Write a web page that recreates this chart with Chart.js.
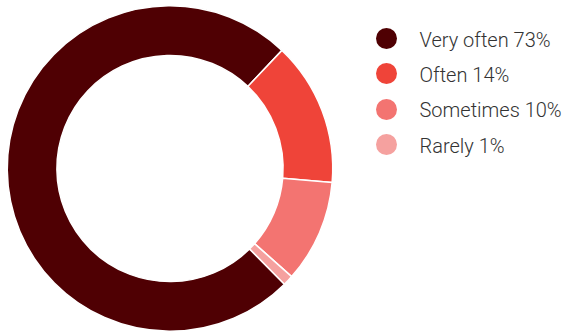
<!DOCTYPE html>
<html>
<head>
<meta charset="utf-8">
<script src="https://cdn.jsdelivr.net/npm/chart.js@4/dist/chart.umd.min.js"></script>
<style>
  html, body { margin: 0; padding: 0; background: #fff; }
  #wrap { position: relative; width: 569px; height: 334px; overflow: hidden; }
  #pie { position: absolute; left: 0; top: 0; width: 340px; height: 334px; }
  #legend { position: absolute; left: 376px; top: 21px; margin: 0; padding: 0; list-style: none; }
  #legend li { display: flex; align-items: center; height: 35.3px; }
  #legend .dot { width: 21px; height: 21px; border-radius: 50%; margin-right: 22.5px; flex: none; }
  #legend .txt { font-family: Roboto, sans-serif; font-weight: 300; font-size: 20px; color: #333; position: relative; top: 1px; white-space: nowrap; }
</style>
</head>
<body>
<div id="wrap">
  <div id="pie"><canvas id="myChart" width="340" height="334"></canvas></div>
  <ul id="legend"></ul>
</div>
<script>
const labels = ["Very often", "Often", "Sometimes", "Rarely"];
const values = [73, 14, 10, 1];
const colors = ["#4f0003", "#ef4439", "#f37471", "#f5a19f"];

// legend built as html so the dot/text spacing can be set freely
const legendEl = document.getElementById('legend');
labels.forEach((name, i) => {
    const li = document.createElement('li');
    const dot = document.createElement('span');
    dot.className = 'dot';
    dot.style.background = colors[i];
    const txt = document.createElement('span');
    txt.className = 'txt';
    txt.textContent = `${name} ${values[i]}%`;
    li.appendChild(dot);
    li.appendChild(txt);
    legendEl.appendChild(li);
});

let ctx = document.getElementById('myChart').getContext('2d');
const config = {
    type: 'doughnut',
    data: {
        labels: labels,
        datasets: [{
            data: values,
            backgroundColor: colors,
            borderColor: "#ffffff",
            borderWidth: 1.5,
            hoverBorderWidth: 0,
        }]
    },
    options: {
        responsive: false,
        animation: false,
        cutout: '69.5%',
        rotation: 135.3,
        layout: {padding: {left: 6, right: 6, top: 5, bottom: 2}},
        plugins: {
            legend: {display: false},
            tooltip: {enabled: false},
        },
    },
}
new Chart(ctx, config);
</script>
</body>
</html>
